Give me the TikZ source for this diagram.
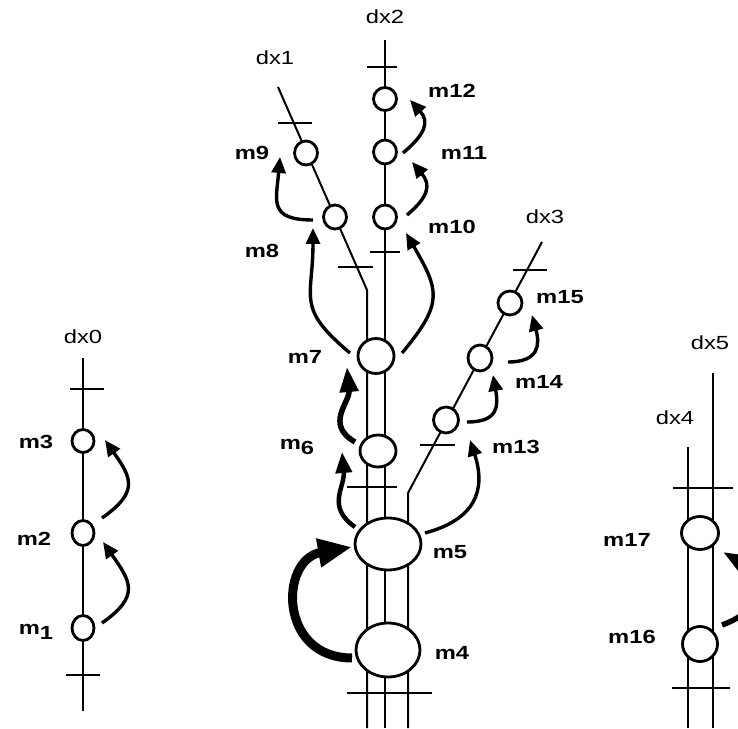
\documentclass[tikz,border=0pt]{standalone}
\usepackage{fontspec}
\setsansfont{Liberation Sans}
\usepackage{tikz}
\usetikzlibrary{shapes.geometric,arrows.meta}

% scanned lettering is wide
\newcommand{\widetext}[1]{\scalebox{1.25}[1]{#1}}

\tikzset{
  site/.style 2 args={ellipse, draw, line width=2.8pt, fill=white, inner sep=0pt,
    minimum width=#1, minimum height=#2},
  rail/.style={line width=2pt},
  railtick/.style={line width=1.8pt},
  mlab/.style={font=\sffamily\bfseries\fontsize{19}{21}\selectfont, inner sep=0pt},
  dxlab/.style={font=\sffamily\fontsize{19}{21}\selectfont, inner sep=0pt},
  move/.style={line width=3.4pt, -{Triangle[length=16pt,width=14pt]}},
  midmove/.style={line width=4.5pt, -{Triangle[length=21pt,width=16pt]}},
  boldmove/.style={line width=5.5pt, -{Triangle[length=25pt,width=18pt]}},
  hugemove/.style={line width=9pt, -{Triangle[length=34pt,width=27pt]}}
}

\begin{document}
\begin{tikzpicture}[x=1pt, y=1pt]
  \useasboundingbox (0,0) rectangle (738,728);
  \clip (0,0) rectangle (738,728);

  % rails dx0 .. dx5
  \draw[rail] (83,17) -- (83,370);
  \draw[rail] (367,0) -- (367,438) -- (278,641);
  \draw[rail] (385,0) -- (385,688);
  \draw[rail] (408,0) -- (408,235) -- (542,486);
  \draw[rail] (688,0) -- (688,281);
  \draw[rail] (713,0) -- (713,355);

  % ticks across the rails
  \foreach \xa/\xb/\yy in {70/104/339, 66/100/53, 278/312/605, 338/373/461,
      367/397/661, 370/400/476, 347/397/241, 347/432/35, 420/455/283,
      513/547/458, 673/733/240, 672/730/40} {
    \draw[railtick] (\xa,\yy) -- (\xb,\yy);
  }

  % rail names
  \node[dxlab] (dx0) at (83,391) {\widetext{dx0}};
  \node[dxlab] (dx1) at (275,670) {\widetext{dx1}};
  \node[dxlab] (dx2) at (385,711) {\widetext{dx2}};
  \node[dxlab] (dx3) at (545,511) {\widetext{dx3}};
  \node[dxlab] (dx4) at (675,310) {\widetext{dx4}};
  \node[dxlab] (dx5) at (710,385) {\widetext{dx5}};

  % sites on dx0
  \node[site={22pt}{25pt}] (m1) at (83,100) {};
  \node[site={22pt}{25pt}] (m2) at (83,195) {};
  \node[site={22pt}{23pt}] (m3) at (83,287) {};

  % sites on dx1, dx2
  \node[site={64pt}{54pt}] (m4) at (388,78) {};
  \node[site={66pt}{52pt}] (m5) at (388,184) {};
  \node[site={36pt}{32pt}] (m6) at (378,277) {};
  \node[site={36pt}{35pt}] (m7) at (376,372) {};
  \node[site={23pt}{24pt}] (m8) at (335,511) {};
  \node[site={23pt}{24pt}] (m9) at (306,575) {};
  \node[site={23pt}{24pt}] (m10) at (385,511) {};
  \node[site={23pt}{24pt}] (m11) at (385,576) {};
  \node[site={23pt}{23pt}] (m12) at (385,629) {};

  % sites on dx3
  \node[site={25pt}{26pt}] (m13) at (446,308) {};
  \node[site={24pt}{26pt}] (m14) at (480,370) {};
  \node[site={24pt}{24pt}] (m15) at (510,425) {};

  % sites on dx4, dx5
  \node[site={35pt}{35pt}] (m16) at (700,84) {};
  \node[site={37pt}{33pt}] (m17) at (700,195) {};

  % site names
  \node[mlab] (l1) at (36,96) {\widetext{m\raisebox{-5pt}{1}}};
  \node[mlab] (l2) at (34,189) {\widetext{m2}};
  \node[mlab] (l3) at (36,286) {\widetext{m3}};
  \node[mlab] (l4) at (452,75) {\widetext{m4}};
  \node[mlab] (l5) at (450,176) {\widetext{m5}};
  \node[mlab] (l6) at (297,281) {\widetext{m\raisebox{-5pt}{6}}};
  \node[mlab] (l7) at (305,371) {\widetext{m7}};
  \node[mlab] (l8) at (262,477) {\widetext{m8}};
  \node[mlab] (l9) at (252,575) {\widetext{m9}};
  \node[mlab] (l10) at (452,501) {\widetext{m10}};
  \node[mlab] (l11) at (464,575) {\widetext{m11}};
  \node[mlab] (l12) at (452,637) {\widetext{m12}};
  \node[mlab] (l13) at (516,281) {\widetext{m13}};
  \node[mlab] (l14) at (539,346) {\widetext{m14}};
  \node[mlab] (l15) at (560,431) {\widetext{m15}};
  \node[mlab] (l16) at (632,91) {\widetext{m16}};
  \node[mlab] (l17) at (627,188) {\widetext{m17}};

  % moves on dx0
  \draw[move] ([shift={(19,5)}]m1.center) to[out=35,in=-55,looseness=1.5] ([shift={(20,-9)}]m2.center);
  \draw[move] ([shift={(19,15)}]m2.center) to[out=35,in=-55,looseness=1.5] ([shift={(22,1)}]m3.center);

  % moves on the central rails
  \draw[hugemove] ([shift={(-36,-8)}]m4.center) to[out=180,in=-170,looseness=1.7] ([shift={(-36,-3)}]m5.center);
  \draw[midmove] ([shift={(-33,17)}]m5.center) to[out=145,in=-85,looseness=1.2] ([shift={(-36,-1)}]m6.center);
  \draw[boldmove] ([shift={(-23,9)}]m6.center) to[out=150,in=-85,looseness=1.2] ([shift={(-29,-11)}]m7.center);
  \draw[move] ([shift={(-26,3)}]m7.center) to[out=140,in=-90,looseness=1.4] ([shift={(-22,-11)}]m8.center);
  \draw[move] ([shift={(26,3)}]m7.center) to[out=50,in=-60,looseness=1.4] ([shift={(21,-16)}]m10.center);
  \draw[move] ([shift={(-22,-3)}]m8.center) to[out=180,in=-95,looseness=1.6] ([shift={(-26,-4)}]m9.center);
  \draw[move] ([shift={(22,2)}]m10.center) to[out=40,in=-50,looseness=1.4] ([shift={(27,-10)}]m11.center);
  \draw[move] ([shift={(18,-1)}]m11.center) to[out=40,in=-48,looseness=1.4] ([shift={(25,-1)}]m12.center);

  % moves on dx3
  \draw[move] ([shift={(37,11)}]m5.center) to[out=15,in=-72,looseness=1.3] ([shift={(24,-20)}]m13.center);
  \draw[move] ([shift={(21,-2)}]m13.center) to[out=0,in=-80,looseness=1.5] ([shift={(13,-17)}]m14.center);
  \draw[move] ([shift={(28,-4)}]m14.center) to[out=0,in=-75,looseness=1.5] ([shift={(22,-12)}]m15.center);

  % move on dx4, dx5
  \draw[boldmove] ([shift={(22,19)}]m16.center) to[out=20,in=-30,looseness=1.7] ([shift={(23,-19)}]m17.center);
\end{tikzpicture}
\end{document}
